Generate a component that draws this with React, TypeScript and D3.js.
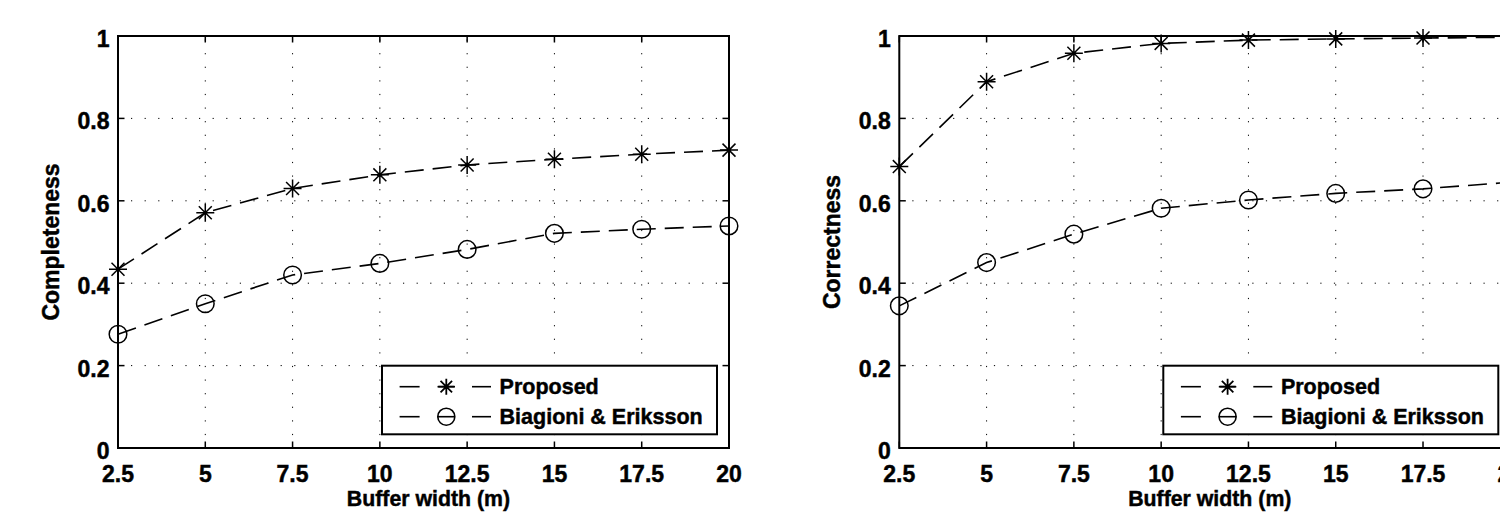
import React from "react";
import * as d3 from "d3";

const bufferWidths = [2.5, 5, 7.5, 10, 12.5, 15, 17.5, 20];
const completenessProposed = [0.434, 0.571, 0.63, 0.663, 0.687, 0.701, 0.713, 0.723];
const completenessBE = [0.276, 0.35, 0.42, 0.448, 0.482, 0.521, 0.531, 0.539];
const correctnessProposed = [0.683, 0.889, 0.958, 0.982, 0.99, 0.993, 0.995, 0.997];
const correctnessBE = [0.345, 0.45, 0.519, 0.582, 0.602, 0.618, 0.629, 0.645];
const xTicks = [2.5, 5, 7.5, 10, 12.5, 15, 17.5, 20];
const xTickLabels = ["2.5", "5", "7.5", "10", "12.5", "15", "17.5", "20"];
const yTicks = [0, 0.2, 0.4, 0.6, 0.8, 1];
const yTickLabels = ["0", "0.2", "0.4", "0.6", "0.8", "1"];
const seriesNames = ["Proposed", "Biagioni & Eriksson"];

const FONT = "'Liberation Sans', Arial, Helvetica, sans-serif";
const heavy = { stroke: "#000", strokeWidth: 0.45, paintOrder: "stroke" } as const;

function asteriskPath(cx: number, cy: number, r: number) {
  const d = r * 0.72;
  return `M${cx - r},${cy}L${cx + r},${cy}M${cx},${cy - r}L${cx},${cy + r}` +
    `M${cx - d},${cy - d}L${cx + d},${cy + d}M${cx - d},${cy + d}L${cx + d},${cy - d}`;
}

function Panel({ left, yLabel, proposed, be, labelX }: { left: number; yLabel: string; proposed: number[]; be: number[]; labelX: number }) {
  const top = 36, bottom = 448;
  const x = d3.scaleLinear().domain([2.5, 20]).range([left, left + 611]);
  const y = d3.scaleLinear().domain([0, 1]).range([bottom, top]);
  const right = x(20);
  const line = d3.line<number>().x((_, i) => x(bufferWidths[i])).y((v) => y(v));
  const tickLen = 6.5;
  const legX = right - 12 - 335;
  const legY = 365.7;
  const rows = [legY + 21, legY + 51];
  return (
    <g>
      {xTicks.slice(1, -1).map((t) => (
        <line key={"gx" + t} x1={x(t)} x2={x(t)} y1={top} y2={bottom} stroke="#000" strokeWidth={1} strokeDasharray="1.2 12.4" strokeDashoffset={-3.5} />
      ))}
      {yTicks.slice(1, -1).map((t) => (
        <line key={"gy" + t} x1={left} x2={right} y1={y(t)} y2={y(t)} stroke="#000" strokeWidth={1} strokeDasharray="1.2 12.4" strokeDashoffset={-13} />
      ))}
      {xTicks.map((t) => (
        <g key={"tx" + t}>
          <line x1={x(t)} x2={x(t)} y1={bottom} y2={bottom - tickLen} stroke="#000" strokeWidth={1.5} />
          <line x1={x(t)} x2={x(t)} y1={top} y2={top + tickLen} stroke="#000" strokeWidth={1.5} />
        </g>
      ))}
      {yTicks.map((t) => (
        <g key={"ty" + t}>
          <line x1={left} x2={left + tickLen} y1={y(t)} y2={y(t)} stroke="#000" strokeWidth={1.5} />
          <line x1={right} x2={right - tickLen} y1={y(t)} y2={y(t)} stroke="#000" strokeWidth={1.5} />
        </g>
      ))}
      <path d={line(proposed) || ""} fill="none" stroke="#000" strokeWidth={1.6} strokeDasharray="19 9" />
      <path d={line(be) || ""} fill="none" stroke="#000" strokeWidth={1.6} strokeDasharray="19 9" />
      {proposed.map((v, i) => (
        <path key={"p" + i} d={asteriskPath(x(bufferWidths[i]), y(v), 9)} stroke="#000" strokeWidth={1.5} fill="none" />
      ))}
      {be.map((v, i) => (
        <circle key={"b" + i} cx={x(bufferWidths[i])} cy={y(v)} r={8.8} stroke="#000" strokeWidth={1.5} fill="none" />
      ))}
      <rect x={left} y={top} width={right - left} height={bottom - top} fill="none" stroke="#000" strokeWidth={2} />
      {xTicks.map((t, i) => (
        <text key={"lx" + t} x={x(t)} y={481.5} textAnchor="middle" fontFamily={FONT} fontWeight="bold" fontSize={23} {...heavy}>{xTickLabels[i]}</text>
      ))}
      {yTicks.map((t, i) => (
        <text key={"ly" + t} x={left - 8.5} y={y(t) + 11} textAnchor="end" fontFamily={FONT} fontWeight="bold" fontSize={23} {...heavy}>{yTickLabels[i]}</text>
      ))}
      <text x={x(11.25) + 5} y={506} textAnchor="middle" fontFamily={FONT} fontWeight="bold" fontSize={21.3} {...heavy}>Buffer width (m)</text>
      <text transform={`translate(${labelX},${(top + bottom) / 2}) rotate(-90)`} textAnchor="middle" fontFamily={FONT} fontWeight="bold" fontSize={23} {...heavy}>{yLabel}</text>
      <rect x={legX} y={legY} width={335} height={68.6} fill="#fff" stroke="#000" strokeWidth={2} />
      {rows.map((ry, i) => (
        <g key={"leg" + i}>
          <line x1={legX + 17.6} x2={legX + 37.6} y1={ry} y2={ry} stroke="#000" strokeWidth={1.6} />
          <line x1={legX + 55.5} x2={legX + 73} y1={ry} y2={ry} stroke="#000" strokeWidth={1.6} />
          <line x1={legX + 90} x2={legX + 109} y1={ry} y2={ry} stroke="#000" strokeWidth={1.6} />
          {i === 0 ? (
            <path d={asteriskPath(legX + 64.3, ry, 8)} stroke="#000" strokeWidth={1.8} fill="none" />
          ) : (
            <circle cx={legX + 64.3} cy={ry} r={8.5} stroke="#000" strokeWidth={1.6} fill="none" />
          )}
          <text x={legX + 117.6} y={ry + 7.5} fontFamily={FONT} fontWeight="bold" fontSize={21.5} {...heavy}>{seriesNames[i]}</text>
        </g>
      ))}
    </g>
  );
}

export default function App() {
  return (
    <svg width={1500} height={512} style={{ position: "absolute", left: 0, top: 0, background: "#fff", overflow: "hidden" }}>
      <rect x={0} y={0} width={1500} height={512} fill="#fff" />
      <Panel left={118} yLabel="Completeness" proposed={completenessProposed} be={completenessBE} labelX={58.5} />
      <Panel left={899.3} yLabel="Correctness" proposed={correctnessProposed} be={correctnessBE} labelX={839.5} />
    </svg>
  );
}
